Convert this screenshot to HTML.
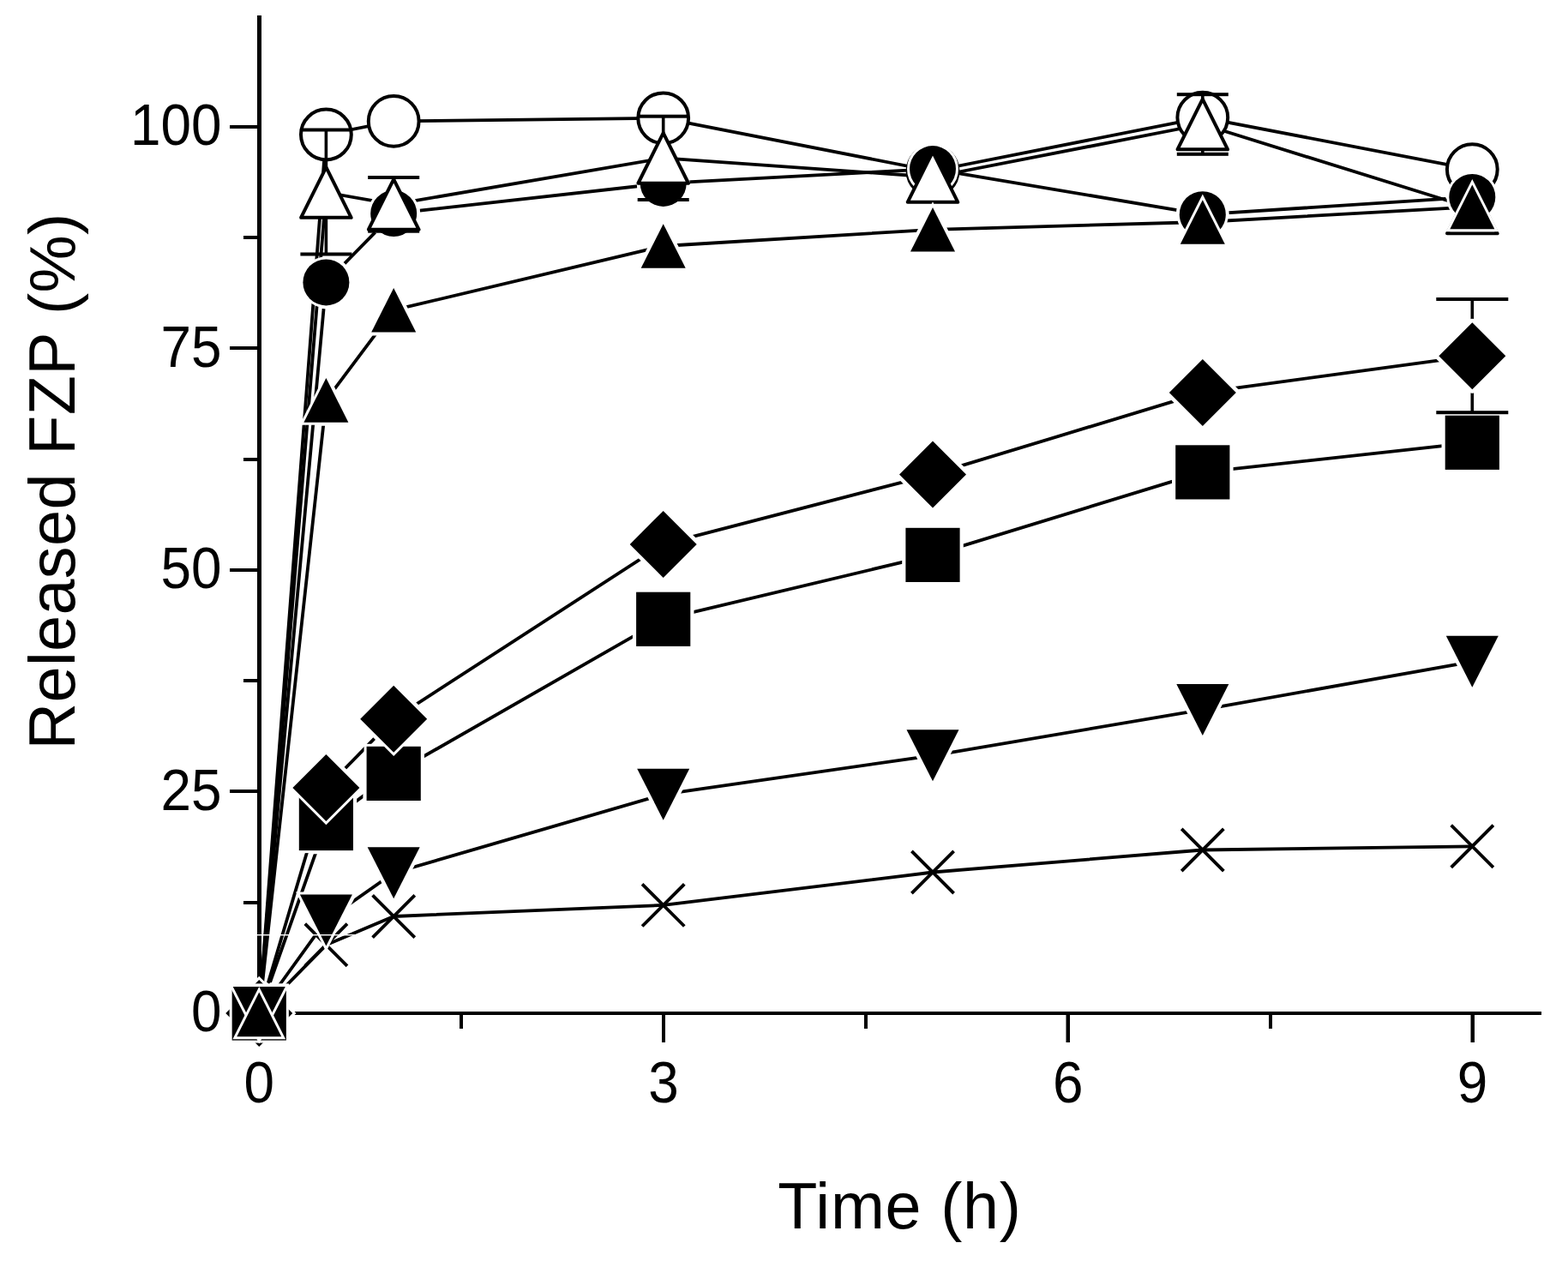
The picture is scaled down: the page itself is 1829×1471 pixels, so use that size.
<!DOCTYPE html>
<html><head><meta charset="utf-8"><title>Released FZP vs Time</title>
<style>html,body{margin:0;padding:0;background:#fff;}body{width:1829px;height:1471px;overflow:hidden;}svg{display:block;}text{font-family:"Liberation Sans",Arial,sans-serif;fill:#000;}</style></head><body>
<svg width="1829" height="1471" viewBox="0 0 1829 1471">
<rect width="1829" height="1471" fill="#fff"/>
<defs>
<mask id="m_fc" maskUnits="userSpaceOnUse" x="0" y="0" width="1829" height="1471">
<rect width="1829" height="1471" fill="#fff"/>
<g fill="#000" stroke="#000" stroke-width="8" stroke-linejoin="round">
<circle cx="302.25" cy="1182" r="27"/>
<circle cx="380.4" cy="329.4" r="27"/>
<circle cx="459.2" cy="249" r="27"/>
<circle cx="773.7" cy="213.9" r="27"/>
<circle cx="1088" cy="197.1" r="27"/>
<circle cx="1402.8" cy="250.2" r="27"/>
<circle cx="1717.3" cy="229.9" r="27"/>
</g></mask>
<mask id="m_ut" maskUnits="userSpaceOnUse" x="0" y="0" width="1829" height="1471">
<rect width="1829" height="1471" fill="#fff"/>
<g fill="#000" stroke="#000" stroke-width="8" stroke-linejoin="round">
<path d="M302.25 1156.2L328.25 1207.8L276.25 1207.8Z"/>
<path d="M380.4 441.1L406.4 492.7L354.4 492.7Z"/>
<path d="M459.2 335.9L485.2 387.5L433.2 387.5Z"/>
<path d="M773.7 261.2L799.7 312.8L747.7 312.8Z"/>
<path d="M1088 242L1114 293.6L1062 293.6Z"/>
<path d="M1402.8 233.2L1428.8 284.8L1376.8 284.8Z"/>
<path d="M1717.3 215.6L1743.3 267.2L1691.3 267.2Z"/>
</g></mask>
<mask id="m_di" maskUnits="userSpaceOnUse" x="0" y="0" width="1829" height="1471">
<rect width="1829" height="1471" fill="#fff"/>
<g fill="#000" stroke="#000" stroke-width="9" stroke-linejoin="round">
<path d="M302.25 1143L341.25 1182L302.25 1221L263.25 1182Z"/>
<path d="M380.4 880L419.4 919L380.4 958L341.4 919Z"/>
<path d="M459.2 799.7L498.2 838.7L459.2 877.7L420.2 838.7Z"/>
<path d="M773.7 595.9L812.7 634.9L773.7 673.9L734.7 634.9Z"/>
<path d="M1088 514.4L1127 553.4L1088 592.4L1049 553.4Z"/>
<path d="M1402.8 418.9L1441.8 457.9L1402.8 496.9L1363.8 457.9Z"/>
<path d="M1717.3 376.2L1756.3 415.2L1717.3 454.2L1678.3 415.2Z"/>
</g></mask>
<mask id="m_sq" maskUnits="userSpaceOnUse" x="0" y="0" width="1829" height="1471">
<rect width="1829" height="1471" fill="#fff"/>
<g fill="#000" stroke="#000" stroke-width="8.4" stroke-linejoin="round">
<rect x="270.65" y="1150.4" width="63.2" height="63.2"/>
<rect x="348.8" y="928.9" width="63.2" height="63.2"/>
<rect x="427.6" y="870.8" width="63.2" height="63.2"/>
<rect x="742.1" y="690.7" width="63.2" height="63.2"/>
<rect x="1056.4" y="615.8" width="63.2" height="63.2"/>
<rect x="1371.2" y="519.3" width="63.2" height="63.2"/>
<rect x="1685.7" y="484.7" width="63.2" height="63.2"/>
</g></mask>
<mask id="m_dt" maskUnits="userSpaceOnUse" x="0" y="0" width="1829" height="1471">
<rect width="1829" height="1471" fill="#fff"/>
<g fill="#000" stroke="#000" stroke-width="8.4" stroke-linejoin="round">
<path d="M271.75 1152L332.75 1152L302.25 1212Z"/>
<path d="M349.9 1043.6L410.9 1043.6L380.4 1103.6Z"/>
<path d="M428.7 988.2L489.7 988.2L459.2 1048.2Z"/>
<path d="M743.2 896.7L804.2 896.7L773.7 956.7Z"/>
<path d="M1057.5 851.3L1118.5 851.3L1088 911.3Z"/>
<path d="M1372.3 797.9L1433.3 797.9L1402.8 857.9Z"/>
<path d="M1686.8 741.8L1747.8 741.8L1717.3 801.8Z"/>
</g></mask>
</defs>
<g fill="#000">
<rect x="300" y="18" width="5" height="1166"/>
<rect x="300" y="1180" width="1498" height="4"/>
<rect x="268" y="146" width="32" height="4"/>
<rect x="268" y="404" width="32" height="4"/>
<rect x="268" y="663" width="32" height="4"/>
<rect x="268" y="921" width="32" height="4"/>
<rect x="268" y="1180" width="32" height="4"/>
<rect x="284" y="275" width="16" height="4"/>
<rect x="284" y="534" width="16" height="4"/>
<rect x="284" y="792" width="16" height="4"/>
<rect x="284" y="1051" width="16" height="4"/>
<rect x="300" y="1184" width="4" height="32"/>
<rect x="772" y="1184" width="4" height="32"/>
<rect x="1243.5" y="1184" width="4.5" height="32"/>
<rect x="1715.5" y="1184" width="4.5" height="32"/>
<rect x="536" y="1184" width="4" height="16"/>
<rect x="1008" y="1184" width="4" height="16"/>
<rect x="1480" y="1184" width="4" height="16"/>
</g>
<text transform="translate(258.5 169) scale(0.975 1.035)" font-size="65.5" text-anchor="end">100</text>
<text transform="translate(258.5 427.5) scale(0.975 1.035)" font-size="65.5" text-anchor="end">75</text>
<text transform="translate(258.5 686) scale(0.975 1.035)" font-size="65.5" text-anchor="end">50</text>
<text transform="translate(258.5 944.5) scale(0.975 1.035)" font-size="65.5" text-anchor="end">25</text>
<text transform="translate(258.5 1203) scale(0.975 1.035)" font-size="65.5" text-anchor="end">0</text>
<text transform="translate(302.25 1285.7) scale(0.975 1.035)" font-size="65.5" text-anchor="middle">0</text>
<text transform="translate(774 1285.7) scale(0.975 1.035)" font-size="65.5" text-anchor="middle">3</text>
<text transform="translate(1245.75 1285.7) scale(0.975 1.035)" font-size="65.5" text-anchor="middle">6</text>
<text transform="translate(1717.5 1285.7) scale(0.975 1.035)" font-size="65.5" text-anchor="middle">9</text>
<text x="1049.5" y="1433" font-size="75.5" letter-spacing="0.8" text-anchor="middle">Time (h)</text>
<text transform="translate(87 561.4) rotate(-90)" font-size="75.5" letter-spacing="0.4" text-anchor="middle">Released FZP (%)</text>
<polyline points="302.25,1182 380.4,157 459.2,141.4 773.7,137.8 1088,199.5 1402.8,137.1 1717.3,197.6" fill="none" stroke="#000" stroke-width="3.8" stroke-linejoin="round"/>
<polyline points="302.25,1182 380.4,329.4 459.2,249 773.7,213.9 1088,197.1 1402.8,250.2 1717.3,229.9" fill="none" stroke="#000" stroke-width="3.8" stroke-linejoin="round" mask="url(#m_fc)"/>
<polyline points="302.25,1182 380.4,224.5 459.2,238.35 773.7,184.4 1088,206.5 1402.8,145 1717.3,243" fill="none" stroke="#000" stroke-width="3.8" stroke-linejoin="round"/>
<polyline points="302.25,1182 380.4,960.5 459.2,902.4 773.7,722.3 1088,647.4 1402.8,550.9 1717.3,516.3" fill="none" stroke="#000" stroke-width="3.8" stroke-linejoin="round" mask="url(#m_sq)"/>
<polyline points="302.25,1182 380.4,919 459.2,838.7 773.7,634.9 1088,553.4 1402.8,457.9 1717.3,415.2" fill="none" stroke="#000" stroke-width="3.8" stroke-linejoin="round" mask="url(#m_di)"/>
<polyline points="302.25,1182 380.4,1102.3 459.2,1069 773.7,1055.9 1088,1017.5 1402.8,991.5 1717.3,987.3" fill="none" stroke="#000" stroke-width="3.8" stroke-linejoin="round"/>
<polyline points="302.25,1182 380.4,1073.6 459.2,1018.2 773.7,926.7 1088,881.3 1402.8,827.9 1717.3,771.8" fill="none" stroke="#000" stroke-width="3.8" stroke-linejoin="round" mask="url(#m_dt)"/>
<polyline points="302.25,1182 380.4,466.9 459.2,361.7 773.7,287 1088,267.8 1402.8,259 1717.3,241.4" fill="none" stroke="#000" stroke-width="3.8" stroke-linejoin="round" mask="url(#m_ut)"/>
<g fill="#fff" stroke="#000" stroke-width="4" stroke-linejoin="round"><circle cx="380.4" cy="157" r="29.4"/></g>
<g fill="#fff" stroke="#000" stroke-width="4" stroke-linejoin="round"><circle cx="459.2" cy="141.4" r="29.4"/></g>
<g fill="#fff" stroke="#000" stroke-width="4" stroke-linejoin="round"><circle cx="773.7" cy="137.8" r="29.4"/></g>
<g fill="#fff" stroke="#000" stroke-width="4" stroke-linejoin="round"><circle cx="1088" cy="199.5" r="29.4"/></g>
<g fill="#fff" stroke="#000" stroke-width="4" stroke-linejoin="round"><circle cx="1402.8" cy="137.1" r="29.4"/></g>
<g fill="#fff" stroke="#000" stroke-width="4" stroke-linejoin="round"><circle cx="1717.3" cy="197.6" r="29.4"/></g>
<g fill="#000" stroke="#fff" stroke-width="6" stroke-linejoin="miter" paint-order="stroke"><circle cx="380.4" cy="329.4" r="27"/></g>
<g fill="#000" stroke="#fff" stroke-width="6" stroke-linejoin="miter" paint-order="stroke"><circle cx="459.2" cy="249" r="27"/></g>
<g fill="#000" stroke="#fff" stroke-width="6" stroke-linejoin="miter" paint-order="stroke"><circle cx="773.7" cy="213.9" r="27"/></g>
<g fill="#000" stroke="#fff" stroke-width="6" stroke-linejoin="miter" paint-order="stroke"><circle cx="1088" cy="197.1" r="27"/></g>
<g fill="#000" stroke="#fff" stroke-width="6" stroke-linejoin="miter" paint-order="stroke"><circle cx="1402.8" cy="250.2" r="27"/></g>
<g fill="#000" stroke="#fff" stroke-width="6" stroke-linejoin="miter" paint-order="stroke"><circle cx="1717.3" cy="229.9" r="27"/></g>
<g fill="#000">
<rect x="378.6" y="151.5" width="3.6" height="145"/>
<rect x="350.4" y="149.5" width="60" height="4"/>
<rect x="350.4" y="294.5" width="60" height="4"/>
<rect x="457.4" y="207" width="3.6" height="62.7"/>
<rect x="429.2" y="205" width="60" height="4"/>
<rect x="429.2" y="267.7" width="60" height="4"/>
<rect x="771.9" y="135.7" width="3.6" height="97.3"/>
<rect x="743.7" y="133.7" width="60" height="4"/>
<rect x="743.7" y="231" width="60" height="4"/>
<rect x="1401" y="110.2" width="3.6" height="69.6"/>
<rect x="1372.8" y="108.2" width="60" height="4"/>
<rect x="1372.8" y="177.8" width="60" height="4"/>
</g>
<g fill="#fff" stroke="#000" stroke-width="4" stroke-linejoin="round"><path d="M380.4 195.2L409.7 253.85L351.1 253.85Z"/></g>
<g fill="#fff" stroke="#000" stroke-width="4" stroke-linejoin="round"><path d="M459.2 209.05L488.5 267.7L429.9 267.7Z"/></g>
<g fill="#fff" stroke="#000" stroke-width="4" stroke-linejoin="round"><path d="M773.7 155.1L803 213.75L744.4 213.75Z"/></g>
<g fill="#fff" stroke="#000" stroke-width="4" stroke-linejoin="round"><path d="M1088 177.2L1117.3 235.85L1058.7 235.85Z"/></g>
<g fill="#fff" stroke="#000" stroke-width="4" stroke-linejoin="round"><path d="M1402.8 115.7L1432.1 174.35L1373.5 174.35Z"/></g>
<g fill="#fff" stroke="#000" stroke-width="4" stroke-linejoin="round"><path d="M1717.3 213.7L1746.6 272.35L1688 272.35Z"/></g>
<g fill="#000" stroke="#fff" stroke-width="6" stroke-linejoin="miter" paint-order="stroke"><rect x="348.8" y="928.9" width="63.2" height="63.2"/></g>
<g fill="#000" stroke="#fff" stroke-width="6" stroke-linejoin="miter" paint-order="stroke"><rect x="427.6" y="870.8" width="63.2" height="63.2"/></g>
<g fill="#000" stroke="#fff" stroke-width="6" stroke-linejoin="miter" paint-order="stroke"><rect x="742.1" y="690.7" width="63.2" height="63.2"/></g>
<g fill="#000" stroke="#fff" stroke-width="6" stroke-linejoin="miter" paint-order="stroke"><rect x="1056.4" y="615.8" width="63.2" height="63.2"/></g>
<g fill="#000" stroke="#fff" stroke-width="6" stroke-linejoin="miter" paint-order="stroke"><rect x="1371.2" y="519.3" width="63.2" height="63.2"/></g>
<g fill="#000" stroke="#fff" stroke-width="6" stroke-linejoin="miter" paint-order="stroke"><rect x="1685.7" y="484.7" width="63.2" height="63.2"/></g>
<g fill="#000" mask="url(#m_di)">
<rect x="1715.5" y="349" width="3.6" height="132.2"/>
<rect x="1675.3" y="347" width="84" height="4"/>
<rect x="1675.3" y="479.2" width="84" height="4"/>
</g>
<g fill="#000" stroke="#fff" stroke-width="6" stroke-linejoin="miter" paint-order="stroke"><path d="M380.4 880L419.4 919L380.4 958L341.4 919Z"/></g>
<g fill="#000" stroke="#fff" stroke-width="6" stroke-linejoin="miter" paint-order="stroke"><path d="M459.2 799.7L498.2 838.7L459.2 877.7L420.2 838.7Z"/></g>
<g fill="#000" stroke="#fff" stroke-width="6" stroke-linejoin="miter" paint-order="stroke"><path d="M773.7 595.9L812.7 634.9L773.7 673.9L734.7 634.9Z"/></g>
<g fill="#000" stroke="#fff" stroke-width="6" stroke-linejoin="miter" paint-order="stroke"><path d="M1088 514.4L1127 553.4L1088 592.4L1049 553.4Z"/></g>
<g fill="#000" stroke="#fff" stroke-width="6" stroke-linejoin="miter" paint-order="stroke"><path d="M1402.8 418.9L1441.8 457.9L1402.8 496.9L1363.8 457.9Z"/></g>
<g fill="#000" stroke="#fff" stroke-width="6" stroke-linejoin="miter" paint-order="stroke"><path d="M1717.3 376.2L1756.3 415.2L1717.3 454.2L1678.3 415.2Z"/></g>
<g fill="none" stroke="#000" stroke-width="3.8"><path d="M355.8 1077.7L405 1126.9M405 1077.7L355.8 1126.9"/></g>
<g fill="none" stroke="#000" stroke-width="3.8"><path d="M434.6 1044.4L483.8 1093.6M483.8 1044.4L434.6 1093.6"/></g>
<g fill="none" stroke="#000" stroke-width="3.8"><path d="M749.1 1031.3L798.3 1080.5M798.3 1031.3L749.1 1080.5"/></g>
<g fill="none" stroke="#000" stroke-width="3.8"><path d="M1063.4 992.9L1112.6 1042.1M1112.6 992.9L1063.4 1042.1"/></g>
<g fill="none" stroke="#000" stroke-width="3.8"><path d="M1378.2 966.9L1427.4 1016.1M1427.4 966.9L1378.2 1016.1"/></g>
<g fill="none" stroke="#000" stroke-width="3.8"><path d="M1692.7 962.7L1741.9 1011.9M1741.9 962.7L1692.7 1011.9"/></g>
<g fill="#000" stroke="#fff" stroke-width="6" stroke-linejoin="miter" paint-order="stroke"><path d="M349.9 1043.6L410.9 1043.6L380.4 1103.6Z"/></g>
<g fill="#000" stroke="#fff" stroke-width="6" stroke-linejoin="miter" paint-order="stroke"><path d="M428.7 988.2L489.7 988.2L459.2 1048.2Z"/></g>
<g fill="#000" stroke="#fff" stroke-width="6" stroke-linejoin="miter" paint-order="stroke"><path d="M743.2 896.7L804.2 896.7L773.7 956.7Z"/></g>
<g fill="#000" stroke="#fff" stroke-width="6" stroke-linejoin="miter" paint-order="stroke"><path d="M1057.5 851.3L1118.5 851.3L1088 911.3Z"/></g>
<g fill="#000" stroke="#fff" stroke-width="6" stroke-linejoin="miter" paint-order="stroke"><path d="M1372.3 797.9L1433.3 797.9L1402.8 857.9Z"/></g>
<g fill="#000" stroke="#fff" stroke-width="6" stroke-linejoin="miter" paint-order="stroke"><path d="M1686.8 741.8L1747.8 741.8L1717.3 801.8Z"/></g>
<g fill="#000" stroke="#fff" stroke-width="6" stroke-linejoin="miter" paint-order="stroke"><path d="M380.4 441.1L406.4 492.7L354.4 492.7Z"/></g>
<g fill="#000" stroke="#fff" stroke-width="6" stroke-linejoin="miter" paint-order="stroke"><path d="M459.2 335.9L485.2 387.5L433.2 387.5Z"/></g>
<g fill="#000" stroke="#fff" stroke-width="6" stroke-linejoin="miter" paint-order="stroke"><path d="M773.7 261.2L799.7 312.8L747.7 312.8Z"/></g>
<g fill="#000" stroke="#fff" stroke-width="6" stroke-linejoin="miter" paint-order="stroke"><path d="M1088 242L1114 293.6L1062 293.6Z"/></g>
<g fill="#000" stroke="#fff" stroke-width="6" stroke-linejoin="miter" paint-order="stroke"><path d="M1402.8 233.2L1428.8 284.8L1376.8 284.8Z"/></g>
<g fill="#000" stroke="#fff" stroke-width="6" stroke-linejoin="miter" paint-order="stroke"><path d="M1717.3 215.6L1743.3 267.2L1691.3 267.2Z"/></g>
<g fill="#fff" stroke="#000" stroke-width="4" stroke-linejoin="round"><circle cx="302.25" cy="1182" r="29.4"/></g>
<g fill="#000" stroke="#fff" stroke-width="6" stroke-linejoin="miter" paint-order="stroke"><circle cx="302.25" cy="1182" r="27"/></g>
<g fill="#fff" stroke="#000" stroke-width="4" stroke-linejoin="round"><path d="M302.25 1152.7L331.55 1211.35L272.95 1211.35Z"/></g>
<g fill="#000" stroke="#fff" stroke-width="6" stroke-linejoin="miter" paint-order="stroke"><path d="M302.25 1143L341.25 1182L302.25 1221L263.25 1182Z"/></g>
<g fill="#000" stroke="#fff" stroke-width="6" stroke-linejoin="miter" paint-order="stroke"><rect x="270.65" y="1150.4" width="63.2" height="63.2"/></g>
<g fill="none" stroke="#000" stroke-width="3.8"><path d="M277.65 1157.4L326.85 1206.6M326.85 1157.4L277.65 1206.6"/></g>
<g fill="#000" stroke="#fff" stroke-width="6" stroke-linejoin="miter" paint-order="stroke"><path d="M271.75 1151L332.75 1151L302.25 1211Z"/></g>
<g fill="#000" stroke="#fff" stroke-width="6" stroke-linejoin="miter" paint-order="stroke"><path d="M302.25 1157.6L328.25 1209.2L276.25 1209.2Z"/></g>
<rect x="300" y="1090" width="114" height="1.4" fill="#fff"/>
</svg></body></html>
